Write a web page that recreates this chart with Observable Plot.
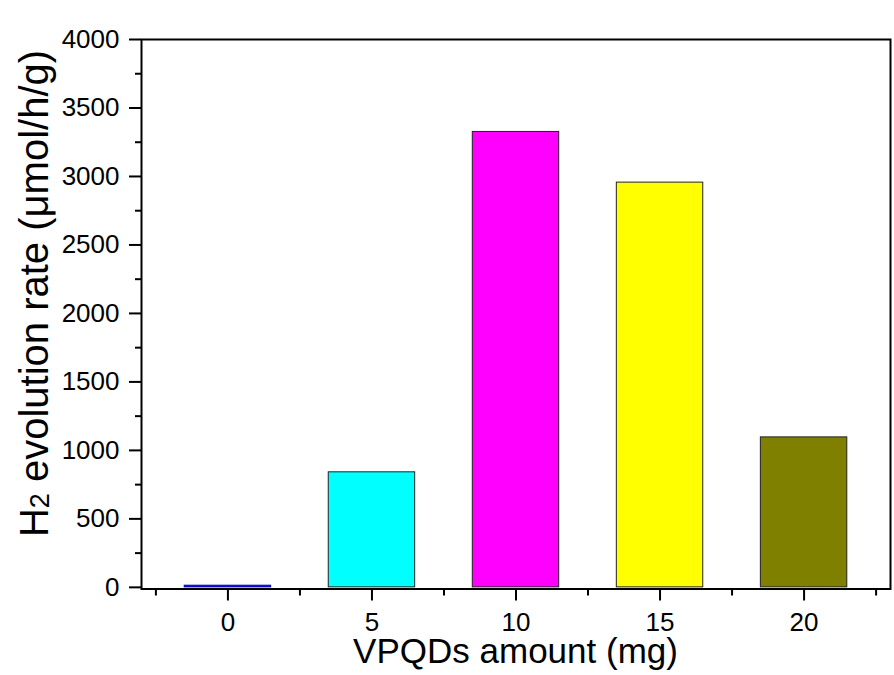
<!DOCTYPE html>
<html>
<head>
<meta charset="utf-8">
<script src="https://cdn.jsdelivr.net/npm/d3@7"></script>
<script src="https://cdn.jsdelivr.net/npm/@observablehq/plot@0.6"></script>
<style>
  html, body { margin: 0; padding: 0; background: #fff; }
  #chart svg { display: block; }
  #chart svg g[aria-label="x-axis tick label"] text,
  #chart svg g[aria-label="y-axis tick label"] text { font-size: 26px !important; }
</style>
</head>
<body>
<div id="chart"></div>
<script>
const amounts = [0, 5, 10, 15, 20];
const rates = [12, 840, 3325, 2955, 1095];
const barColors = ["#0000CC", "#00FFFF", "#FF00FF", "#FFFF00", "#808000"];
const barStrokes = ["#0000CC", "#222", "#222", "#222", "#222"];
const yTicks = [0, 500, 1000, 1500, 2000, 2500, 3000, 3500, 4000];
const yMinorTicks = [250, 750, 1250, 1750, 2250, 2750, 3250, 3750];
const xTicks = [0, 5, 10, 15, 20];
const xMinorTicks = [-2.5, 2.5, 7.5, 12.5, 17.5, 22.5];
const xTitle = "VPQDs amount (mg)";
const yTitleMain = "H";
const yTitleSub = "2";
const yTitleRest = " evolution rate (\u03BCmol/h/g)";

const data = amounts.map((a, i) => ({amount: a, rate: rates[i], color: barColors[i], edge: barStrokes[i]}));
const halfWidth = 1.5;

const chart = Plot.plot({
  width: 894,
  height: 675,
  marginLeft: 141,
  marginRight: 4,
  marginTop: 39,
  marginBottom: 86.5,
  style: {fontFamily: "'Liberation Sans', Arial, sans-serif", fontSize: "26px", background: "#fff", color: "#000"},
  x: {domain: [-3, 23], axis: null},
  y: {domain: [-12, 4000], axis: null},
  marks: [
    Plot.rectY(data, {
      x1: d => d.amount - halfWidth,
      x2: d => d.amount + halfWidth,
      y1: 0,
      y2: "rate",
      fill: d => d.color,
      stroke: d => d.edge,
      strokeWidth: 1
    }),
    Plot.frame({stroke: "#000", strokeWidth: 2}),
    Plot.axisY({ticks: yTicks, tickSize: 12, tickPadding: 10, strokeWidth: 2, fontSize: 26, label: null, tickFormat: d => String(d)}),
    Plot.axisY({ticks: yMinorTicks, tickSize: 6, strokeWidth: 2, label: null, text: null}),
    Plot.axisX({ticks: xTicks, tickSize: 12, tickPadding: 12, strokeWidth: 2, fontSize: 26, label: null, tickFormat: d => String(d)}),
    Plot.axisX({ticks: xMinorTicks, tickSize: 7, strokeWidth: 2, label: null, text: null})
  ]
});

document.getElementById("chart").appendChild(chart);

const svg = d3.select(chart);

svg.append("text")
  .attr("x", 515.5)
  .attr("y", 663)
  .attr("text-anchor", "middle")
  .attr("font-size", 35)
  .attr("fill", "#000")
  .text(xTitle);

const yt = svg.append("text")
  .attr("transform", "translate(48,293.5) rotate(-90)")
  .attr("text-anchor", "middle")
  .attr("font-size", 40)
  .attr("fill", "#000");
yt.append("tspan").text(yTitleMain);
yt.append("tspan").attr("font-size", 27).attr("dy", 1).text(yTitleSub);
yt.append("tspan").attr("dy", -1).text(yTitleRest);
</script>
</body>
</html>
